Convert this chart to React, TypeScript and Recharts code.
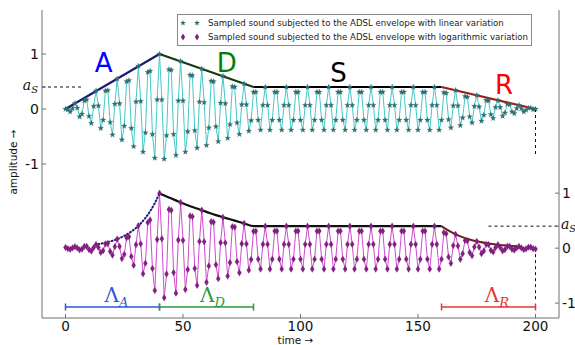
import React from 'react';
import { ComposedChart, Line, XAxis, YAxis, ReferenceLine, ReferenceDot, Legend } from 'recharts';

// ---------- data ----------
// sampled sound, linear ADSL envelope (t = 0..200)
const linearSignal = [
  0, -0.01, -0.05, 0.01, 0.1, 0.02, -0.14, -0.09, 0.15, 0.17,
  -0.13, -0.26, 0.05, 0.33, 0.06, -0.35, -0.2, 0.33, 0.34, -0.24,
  -0.47, 0.09, 0.55, 0.1, -0.56, -0.31, 0.5, 0.52, -0.35, -0.68,
  0.13, 0.78, 0.14, -0.78, -0.43, 0.67, 0.69, -0.46, -0.89, 0.17,
  1, 0.17, -0.91, -0.48, 0.72, 0.71, -0.46, -0.84, 0.15, 0.87,
  0.15, -0.78, -0.41, 0.62, 0.61, -0.39, -0.71, 0.13, 0.73, 0.12,
  -0.66, -0.34, 0.51, 0.5, -0.32, -0.59, 0.11, 0.6, 0.1, -0.53,
  -0.28, 0.41, 0.4, -0.25, -0.46, 0.08, 0.46, 0.08, -0.4, -0.21,
  0.31,
  0.31, -0.2, -0.38, 0.07, 0.4, 0.07, -0.38, -0.2, 0.31,
  0.31, -0.2, -0.38, 0.07, 0.4, 0.07, -0.38, -0.2, 0.31,
  0.31, -0.2, -0.38, 0.07, 0.4, 0.07, -0.38, -0.2, 0.31,
  0.31, -0.2, -0.38, 0.07, 0.4, 0.07, -0.38, -0.2, 0.31,
  0.31, -0.2, -0.38, 0.07, 0.4, 0.07, -0.38, -0.2, 0.31,
  0.31, -0.2, -0.38, 0.07, 0.4, 0.07, -0.38, -0.2, 0.31,
  0.31, -0.2, -0.38, 0.07, 0.4, 0.07, -0.38, -0.2, 0.31,
  0.31, -0.2, -0.38, 0.07, 0.4, 0.07, -0.38, -0.2, 0.31,
  0.31, -0.2, -0.38, 0.07, 0.4, 0.07, -0.38, -0.2,
  0.3, 0.29, -0.19, -0.34, 0.06, 0.34, 0.06, -0.3, -0.16, 0.23,
  0.22, -0.14, -0.25, 0.05, 0.25, 0.04, -0.22, -0.11, 0.16, 0.15,
  -0.1, -0.17, 0.03, 0.16, 0.03, -0.13, -0.07, 0.09, 0.08, -0.05,
  -0.08, 0.01, 0.07, 0.01, -0.05, -0.02, 0.02, 0.02, -0.01, 0,
];

// sampled sound, logarithmic ADSL envelope (t = 0..200), right axis
const logSignal = [
  0.014, -0.01, -0.021, 0.004, 0.027, 0.005, -0.031, -0.018, 0.031, 0.034,
  -0.025, -0.052, 0.011, 0.067, 0.013, -0.077, -0.045, 0.077, 0.085, -0.061,
  -0.127, 0.026, 0.165, 0.032, -0.19, -0.112, 0.189, 0.209, -0.151, -0.313,
  0.064, 0.407, 0.078, -0.467, -0.274, 0.465, 0.513, -0.37, -0.77, 0.157,
  1, 0.171, -0.902, -0.47, 0.705, 0.689, -0.443, -0.818, 0.148, 0.83,
  0.142, -0.752, -0.39, 0.586, 0.575, -0.368, -0.677, 0.123, 0.69, 0.117,
  -0.62, -0.323, 0.483, 0.471, -0.3, -0.555, 0.1, 0.56, 0.096, -0.508,
  -0.263, 0.391, 0.383, -0.245, -0.447, 0.08, 0.45, 0.077, -0.4, -0.205,
  0.306,
  0.31, -0.2, -0.38, 0.07, 0.4, 0.07, -0.38, -0.2, 0.31,
  0.31, -0.2, -0.38, 0.07, 0.4, 0.07, -0.38, -0.2, 0.31,
  0.31, -0.2, -0.38, 0.07, 0.4, 0.07, -0.38, -0.2, 0.31,
  0.31, -0.2, -0.38, 0.07, 0.4, 0.07, -0.38, -0.2, 0.31,
  0.31, -0.2, -0.38, 0.07, 0.4, 0.07, -0.38, -0.2, 0.31,
  0.31, -0.2, -0.38, 0.07, 0.4, 0.07, -0.38, -0.2, 0.31,
  0.31, -0.2, -0.38, 0.07, 0.4, 0.07, -0.38, -0.2, 0.31,
  0.31, -0.2, -0.38, 0.07, 0.4, 0.07, -0.38, -0.2, 0.31,
  0.31, -0.2, -0.38, 0.07, 0.4, 0.07, -0.38, -0.2,
  0.283, 0.263, -0.159, -0.276, 0.047, 0.252, 0.041, -0.202, -0.1, 0.141,
  0.131, -0.079, -0.137, 0.023, 0.125, 0.02, -0.101, -0.05, 0.07, 0.065,
  -0.04, -0.069, 0.012, 0.063, 0.01, -0.051, -0.025, 0.035, 0.033, -0.02,
  -0.034, 0.006, 0.031, 0.005, -0.025, -0.013, 0.018, 0.016, -0.01, -0.017,
];

// linear envelope breakpoints
const linEnvT = [0, 40, 80, 160, 200];
const linEnvV = [0, 1, 0.4, 0.4, 0];

// logarithmic envelope
const logAttackT = [14, 16, 18, 20, 22, 24, 26, 28, 30, 32, 34, 36, 38, 40];
const logAttackV = [0.074, 0.091, 0.111, 0.135, 0.165, 0.202, 0.247, 0.301, 0.368, 0.449, 0.549, 0.67, 0.819, 1];
const logDecayT = [40, 44, 48, 52, 56, 60, 64, 68, 72, 76, 80, 160];
const logDecayV = [1, 0.92, 0.85, 0.78, 0.72, 0.66, 0.6, 0.55, 0.5, 0.45, 0.4, 0.4];
const logReleaseT = [160, 164, 168, 172, 176, 180, 184, 188, 192];
const logReleaseV = [0.4, 0.294, 0.215, 0.158, 0.116, 0.085, 0.063, 0.046, 0.034];

const xTicks = [0, 50, 100, 150, 200];
const yTicks = [-1, 0, 0.4, 1];
const A_S = 0.4;

const phaseLetters = ['A', 'D', 'S', 'R'];
const phaseLetterT = [16.2, 68.6, 116.2, 186.6];
const phaseLetterY = [0.67, 0.67, 0.5, 0.27];
const phaseColors = ['#0000ff', '#008000', '#000000', '#ff0000'];

const intervalSub = ['A', 'D', 'R'];
const intervalStart = [0, 40, 160];
const intervalEnd = [40, 80, 200];
const intervalColors = ['#2f55d8', '#2b9a3b', '#e83434'];
const intervalBarY = -1.07;
const intervalLabelT = [21.7, 62.5, 183.6];
const intervalLabelY = -0.98;

const legendLabels = [
  'Sampled sound subjected to the ADSL envelope with linear variation',
  'Sampled sound subjected to the ADSL envelope with logarithmic variation',
];

// ---------- tables built from the arrays ----------
const rows = linearSignal.map((v, i) => ({ t: i, lin: v, log: logSignal[i] }));
const pairs = (ts: number[], vs: number[]) => ts.map((t, i) => ({ t, v: vs[i] }));
const linSegments = [0, 1, 2, 3].map((i) => pairs(linEnvT.slice(i, i + 2), linEnvV.slice(i, i + 2)));
const segColors = ['#1b1b78', '#173a17', '#000000', '#a01c1c'];

// ---------- styles ----------
const FONT = 'DejaVu Sans, sans-serif';
const SERIF = 'DejaVu Serif, serif';
const CYAN = '#45c8c8';
const STAR_FILL = '#2f6e6e';
const MAGENTA = '#d04ad0';
const DIAMOND_FILL = '#80207f';
const STAR_D = 'M0,-3L0.72,-1L2.85,-0.93L1.17,0.38L1.76,2.43L0,1.23L-1.76,2.43L-1.17,0.38L-2.85,-0.93L-0.72,-1Z';
const DIAMOND_D = 'M0,-3.4L2.1,0L0,3.4L-2.1,0Z';

const starDot = (p: any) => {
  if (p.cx == null || p.cy == null) return <g key={p.index} />;
  return <path key={p.index} d={STAR_D} transform={`translate(${p.cx},${p.cy})`} fill={STAR_FILL} stroke={STAR_FILL} strokeWidth={0.2} />;
};
const diamondDot = (p: any) => {
  if (p.cx == null || p.cy == null) return <g key={p.index} />;
  return <path key={p.index} d={DIAMOND_D} transform={`translate(${p.cx},${p.cy})`} fill={DIAMOND_FILL} stroke={DIAMOND_FILL} strokeWidth={0.2} />;
};
const capDot = (color: string) => (p: any) => {
  if (p.cx == null || p.cy == null) return <g key={p.index} />;
  return <line key={p.index} x1={p.cx} x2={p.cx} y1={p.cy - 3.5} y2={p.cy + 3.5} stroke={color} strokeWidth={1.5} />;
};

const LeftTick = (p: any) => {
  const v = p.payload.value;
  if (v === A_S) {
    return (
      <text x={p.x - 2} y={p.y} dy="0.2em" textAnchor="end" fontFamily={SERIF} fontStyle="italic" fontSize={14} fill="#111">
        a<tspan fontSize={10} dy={3}>S</tspan>
      </text>
    );
  }
  return (
    <text x={p.x - 1} y={p.y} dy="0.36em" textAnchor="end" fontFamily={FONT} fontSize={14} fill="#111">{String(v)}</text>
  );
};
const RightTick = (p: any) => {
  const v = p.payload.value;
  if (v === A_S) {
    return (
      <text x={p.x - 1} y={p.y} dy="0.2em" textAnchor="start" fontFamily={SERIF} fontStyle="italic" fontSize={14} fill="#111">
        a<tspan fontSize={10} dy={3}>S</tspan>
      </text>
    );
  }
  return (
    <text x={p.x} y={p.y} dy="0.36em" textAnchor="start" fontFamily={FONT} fontSize={14} fill="#111">{String(v)}</text>
  );
};
const BottomTick = (p: any) => (
  <text x={p.x} y={p.y} dy="0.72em" textAnchor="middle" fontFamily={FONT} fontSize={13.5} fill="#111">{String(p.payload.value)}</text>
);
const EmptyTick = () => <g />;

const AmpLabel = (p: any) => {
  const vb = p.viewBox || { x: 12, y: 10, height: 308 };
  const x = vb.x + 1;
  const y = vb.y + vb.height / 2 - 2;
  return (
    <text x={x} y={y} transform={`rotate(-90, ${x}, ${y})`} textAnchor="middle" dominantBaseline="central" fontFamily={FONT} fontSize={10.5} fill="#111">
      amplitude →
    </text>
  );
};

const LegendBox = () => (
  <div style={{ border: '1px solid #8a8a8a', background: '#fff', padding: '1px 3px 1px 2px', fontFamily: FONT, fontSize: 8.6, color: '#222', whiteSpace: 'nowrap' }}>
    {legendLabels.map((label, i) => (
      <div key={label} style={{ display: 'flex', alignItems: 'center', height: 14 }}>
        <svg width={28} height={14} style={{ flex: 'none' }}>
          {[3, 17].map((x) => (
            <path key={x} d={i === 0 ? STAR_D : DIAMOND_D} transform={`translate(${x},7)`} fill={i === 0 ? STAR_FILL : DIAMOND_FILL} />
          ))}
        </svg>
        <span>{label}</span>
      </div>
    ))}
  </div>
);

export default function App() {
  return (
    <div style={{ position: 'absolute', left: 0, top: 0, width: 575, height: 345, background: '#fff' }}>
      <ComposedChart width={575} height={345} data={rows} margin={{ top: 10, right: 0, bottom: 0, left: 12 }}>
        <XAxis
          dataKey="t" type="number" domain={[-10, 210]} ticks={xTicks} interval={0} allowDataOverflow
          height={27} tickSize={-4} tickMargin={7} tick={BottomTick}
          axisLine={{ stroke: '#707070' }} tickLine={{ stroke: '#707070' }}
          label={{ value: 'time →', position: 'insideBottom', offset: 1, fontSize: 10.5, fontFamily: FONT, fill: '#111', dx: -5 }}
        />
        <XAxis
          xAxisId="top" orientation="top" dataKey="t" type="number" domain={[-10, 210]} ticks={xTicks} interval={0}
          allowDataOverflow height={0} tickSize={-4} tick={EmptyTick}
          axisLine={{ stroke: '#707070' }} tickLine={{ stroke: '#707070' }}
        />
        <YAxis
          yAxisId="left" type="number" domain={[-3.8, 1.8]} ticks={yTicks} interval={0} allowDataOverflow
          width={30} tickSize={-4} tickMargin={6} tick={LeftTick}
          axisLine={{ stroke: '#707070' }} tickLine={{ stroke: '#707070' }}
          label={{ content: AmpLabel }}
        />
        <YAxis
          yAxisId="right" orientation="right" type="number" domain={[-1.27, 4.33]} ticks={yTicks} interval={0} allowDataOverflow
          width={16} tickSize={-4} tickMargin={7} tick={RightTick}
          axisLine={{ stroke: '#707070' }} tickLine={{ stroke: '#707070' }}
        />

        <Legend layout="vertical" align="center" verticalAlign="middle" content={LegendBox}
          wrapperStyle={{ left: 177, top: 14, width: 'auto', height: 'auto' }} />

        {/* sampled signals */}
        <Line yAxisId="left" dataKey="lin" type="linear" stroke={CYAN} strokeWidth={1} dot={starDot} activeDot={false} isAnimationActive={false} legendType="star" />
        <Line yAxisId="right" dataKey="log" type="linear" stroke={MAGENTA} strokeWidth={1} dot={diamondDot} activeDot={false} isAnimationActive={false} legendType="diamond" />

        {/* linear envelope */}
        {linSegments.map((seg, i) => (
          <Line key={`lin-env-${i}`} yAxisId="left" data={seg} dataKey="v" type="linear" stroke={segColors[i]} strokeWidth={2.2}
            dot={false} activeDot={false} isAnimationActive={false} legendType="none" />
        ))}

        {/* logarithmic envelope */}
        <Line yAxisId="right" data={pairs(logAttackT, logAttackV)} dataKey="v" type="monotone" stroke="#1b1b78" strokeWidth={2}
          strokeDasharray="1 2.4" strokeLinecap="round" dot={false} activeDot={false} isAnimationActive={false} legendType="none" />
        <Line yAxisId="right" data={pairs(logDecayT, logDecayV)} dataKey="v" type="monotone" stroke="#111" strokeWidth={2.2}
          dot={false} activeDot={false} isAnimationActive={false} legendType="none" />
        <Line yAxisId="right" data={pairs(logReleaseT, logReleaseV)} dataKey="v" type="monotone" stroke="#6e1e1e" strokeWidth={2}
          dot={false} activeDot={false} isAnimationActive={false} legendType="none" />

        {/* a_S guides and end-of-sound guides */}
        <ReferenceLine yAxisId="left" segment={[{ x: -10, y: A_S }, { x: 7, y: A_S }]} stroke="#111" strokeDasharray="3 3" ifOverflow="visible" />
        <ReferenceLine yAxisId="right" segment={[{ x: 180, y: A_S }, { x: 210, y: A_S }]} stroke="#111" strokeDasharray="3 3" ifOverflow="visible" />
        <ReferenceLine yAxisId="left" segment={[{ x: 200, y: 0 }, { x: 200, y: -0.82 }]} stroke="#111" strokeDasharray="3 3" ifOverflow="visible" />
        <ReferenceLine yAxisId="right" segment={[{ x: 200, y: 0 }, { x: 200, y: -0.96 }]} stroke="#111" strokeDasharray="3 3" ifOverflow="visible" />

        {/* phase intervals */}
        {intervalStart.map((s, i) => (
          <Line key={`int-${i}`} yAxisId="right" data={pairs([s, intervalEnd[i]], [intervalBarY, intervalBarY])} dataKey="v" type="linear"
            stroke={intervalColors[i]} strokeWidth={1.6} dot={capDot(intervalColors[i])} activeDot={false} isAnimationActive={false} legendType="none" />
        ))}
        {intervalSub.map((s, i) => (
          <ReferenceDot key={`lam-${s}`} yAxisId="right" x={intervalLabelT[i]} y={intervalLabelY} r={0} ifOverflow="visible"
            shape={(p: any) => (
              <text x={p.cx} y={p.cy} textAnchor="middle" fontFamily={SERIF} fontSize={20} fill={intervalColors[i]}>
                Λ<tspan fontStyle="italic" fontSize={13} dy={5}>{s}</tspan>
              </text>
            )}
          />
        ))}

        {/* phase letters */}
        {phaseLetters.map((s, i) => (
          <ReferenceDot key={`ph-${s}`} yAxisId="left" x={phaseLetterT[i]} y={phaseLetterY[i]} r={0} ifOverflow="visible"
            shape={(p: any) => (
              <text x={p.cx} y={p.cy} textAnchor="middle" fontFamily={FONT} fontSize={26} fill={phaseColors[i]}>{s}</text>
            )}
          />
        ))}
      </ComposedChart>
    </div>
  );
}
